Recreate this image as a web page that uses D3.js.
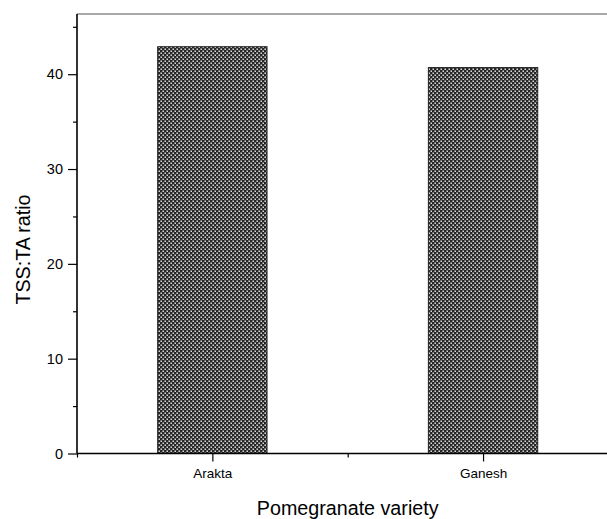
<!DOCTYPE html>
<html><head><meta charset="utf-8">
<script src="https://cdn.jsdelivr.net/npm/d3@7"></script>
<style>body{margin:0;background:#fff}svg{display:block}text{font-family:"Liberation Sans",Arial,sans-serif;fill:#000}</style>
</head><body>
<script>
const categories = ["Arakta", "Ganesh"];
const values = [42.9, 40.7];
const yMajorTicks = [0, 10, 20, 30, 40];
const yMinorTicks = [5, 15, 25, 35, 45];
const xMinorTicks = [0.5, 1.5, 2.5];
const yTitle = "TSS:TA ratio";
const xTitle = "Pomegranate variety";

(function(){
const W = 607, H = 519;
const mLeft = 77, mTop = 14, mBottom = 453.5;
const svg = d3.select("body").append("svg").attr("width", W).attr("height", H);

const defs = svg.append("defs");
const pat = defs.append("pattern").attr("id","hatch").attr("patternUnits","userSpaceOnUse")
  .attr("width",4).attr("height",4);
pat.append("rect").attr("width",4).attr("height",4).attr("fill","#262626");
pat.append("rect").attr("x",0.5).attr("y",0.5).attr("width",1.4).attr("height",1.4).attr("fill","#fff");
pat.append("rect").attr("x",2.5).attr("y",2.5).attr("width",1.4).attr("height",1.4).attr("fill","#fff");

const x = d3.scaleLinear().domain([0.5, 2.5]).range([mLeft, mLeft + 541.4]);
const y = d3.scaleLinear().domain([0, 46.35]).range([mBottom, mTop]);
const barW = 0.404;

svg.append("g").selectAll("rect").data(values).join("rect")
  .attr("x", (d,i) => x(i + 1 - barW/2))
  .attr("width", (d,i) => x(i + 1 + barW/2) - x(i + 1 - barW/2))
  .attr("y", d => y(d))
  .attr("height", d => y(0) - y(d))
  .attr("fill", "url(#hatch)")
  .attr("stroke", "#222").attr("stroke-width", 1);

svg.append("line").attr("x1", mLeft).attr("x2", W).attr("y1", mTop).attr("y2", mTop)
  .attr("stroke", "#555").attr("stroke-width", 1.2);

const yAxis = svg.append("g").attr("transform", `translate(${mLeft},0)`)
  .call(d3.axisLeft(y).tickValues(yMajorTicks).tickSize(9).tickPadding(5).tickFormat(d3.format("d")));
yAxis.select(".domain").attr("stroke","#000").attr("stroke-width",1.6).attr("d", `M0,${mTop}V${mBottom}`);
yAxis.selectAll(".tick line").attr("stroke","#000").attr("stroke-width",1.2);
yAxis.selectAll(".tick text").attr("font-size", 14.5).attr("font-family", '"Liberation Sans",Arial,sans-serif').attr("fill","#000");
const yMinor = svg.append("g").attr("transform", `translate(${mLeft},0)`)
  .call(d3.axisLeft(y).tickValues(yMinorTicks).tickSize(4).tickFormat(""));
yMinor.select(".domain").remove();
yMinor.selectAll(".tick line").attr("stroke","#000").attr("stroke-width",1.2);

const xAxis = svg.append("g").attr("transform", `translate(0,${mBottom})`)
  .call(d3.axisBottom(x).tickValues([1,2]).tickSize(8).tickPadding(7).tickFormat((d,i) => categories[i]));
xAxis.select(".domain").attr("stroke","#000").attr("stroke-width",1.6).attr("d", `M${mLeft},0H${W}`);
xAxis.selectAll(".tick line").attr("stroke","#000").attr("stroke-width",1.2);
xAxis.selectAll(".tick text").attr("font-size", 13.5).attr("font-family", '"Liberation Sans",Arial,sans-serif').attr("fill","#000");
const xMinor = svg.append("g").attr("transform", `translate(0,${mBottom})`)
  .call(d3.axisBottom(x).tickValues(xMinorTicks).tickSize(4).tickFormat(""));
xMinor.select(".domain").remove();
xMinor.selectAll(".tick line").attr("stroke","#000").attr("stroke-width",1.2);

svg.append("text").attr("transform", `translate(30,249.5) rotate(-90)`)
  .attr("text-anchor","middle").attr("font-size",19.7).text(yTitle);
svg.append("text").attr("x", x(1.5)).attr("y", 515)
  .attr("text-anchor","middle").attr("font-size",19.7).text(xTitle);
})();
</script>
</body></html>
